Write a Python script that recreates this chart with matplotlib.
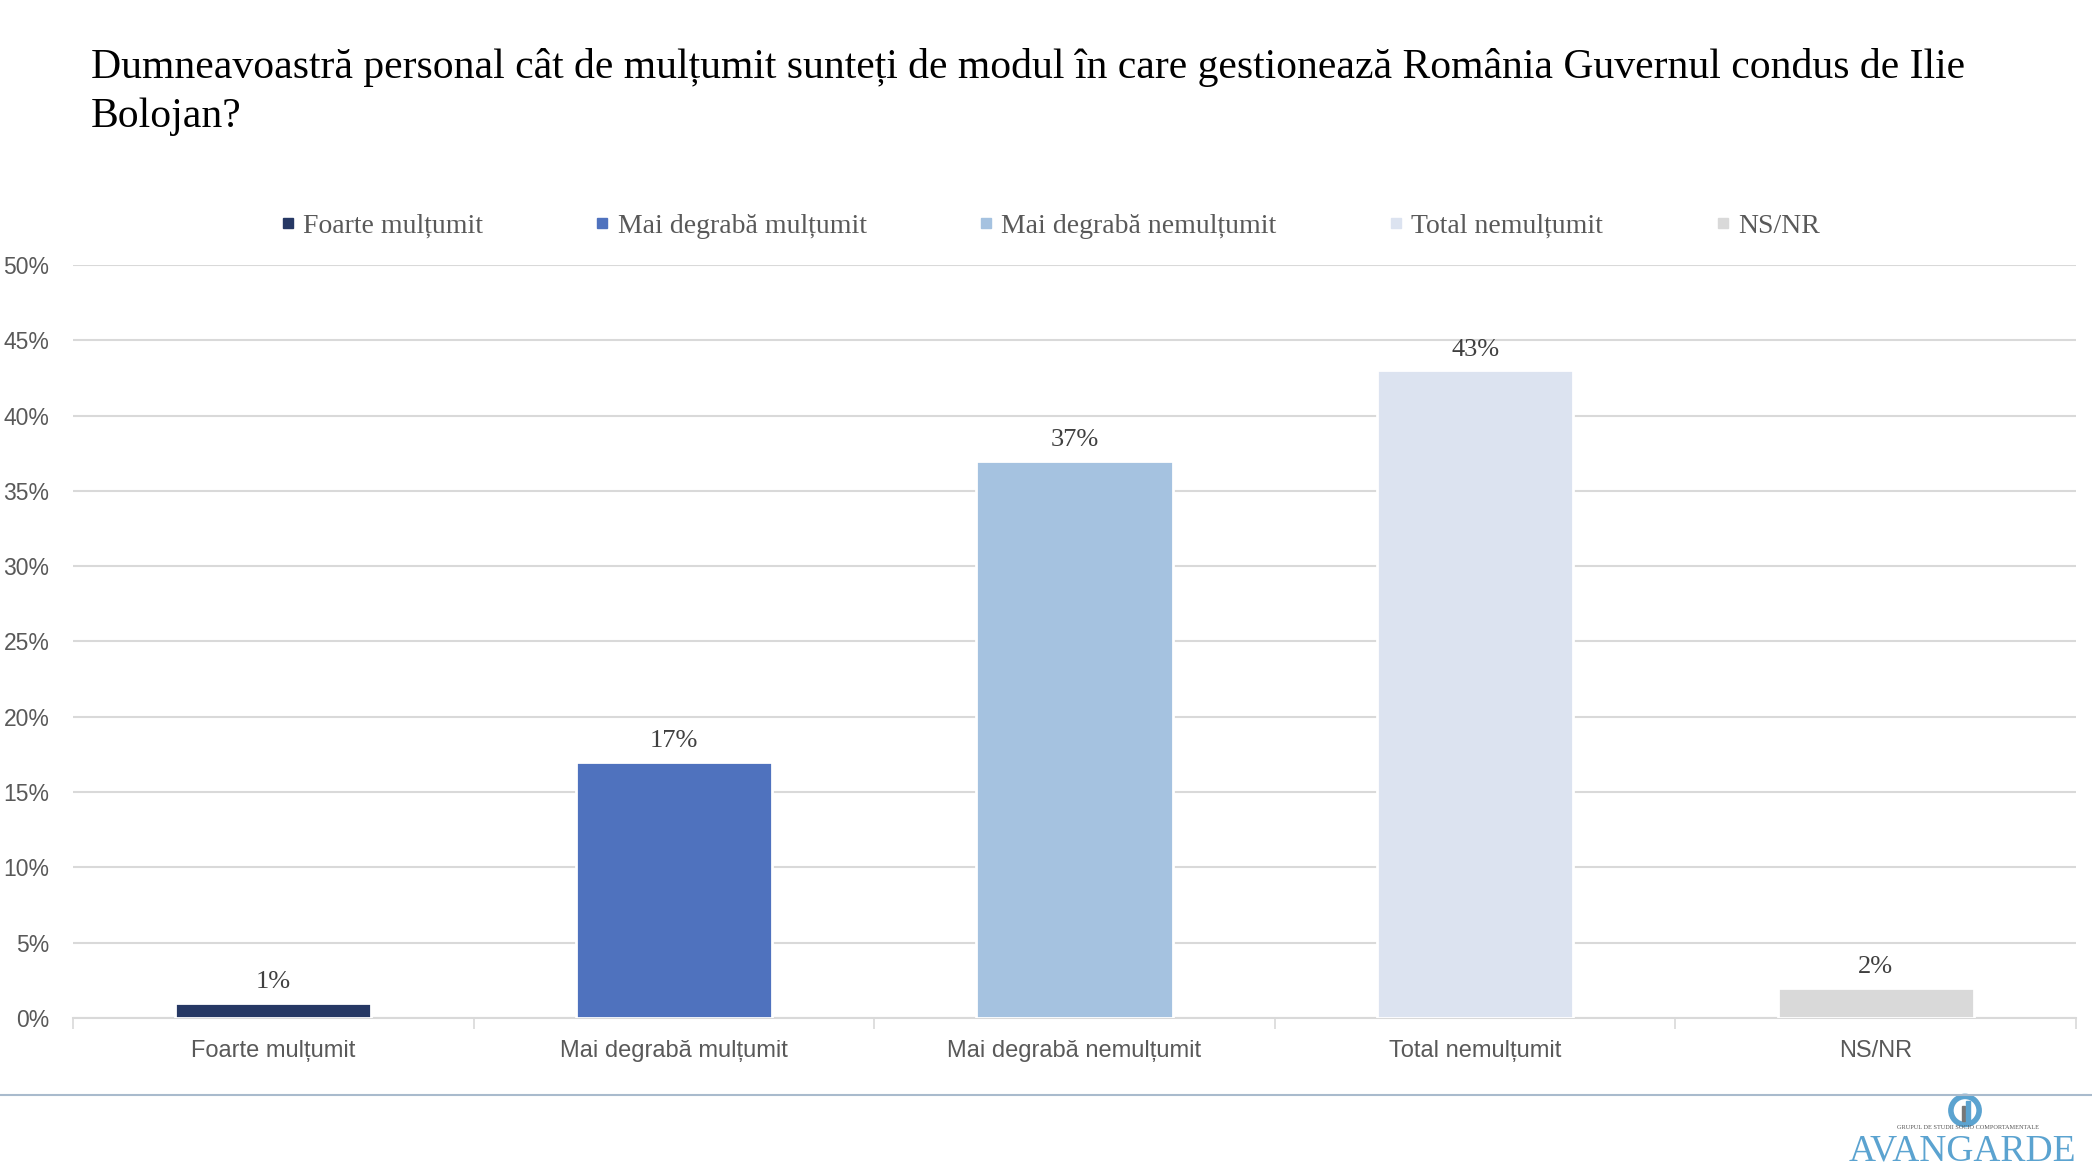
import matplotlib.pyplot as plt
from matplotlib.patches import Ellipse, Rectangle
from matplotlib.lines import Line2D

categories = ['Foarte mulțumit', 'Mai degrabă mulțumit', 'Mai degrabă nemulțumit',
              'Total nemulțumit', 'NS/NR']
values = [1, 17, 37, 43, 2]
colors = ['#263864', '#4F72BE', '#A5C2E0', '#DCE3F0', '#D9D9D9']
yticks = [0, 5, 10, 15, 20, 25, 30, 35, 40, 45, 50]

title = ('Dumneavoastră personal cât de mulțumit sunteți de modul în care gestionează '
         'România Guvernul condus de Ilie\nBolojan?')

serif = 'Liberation Serif'
sans = 'Liberation Sans'

fig = plt.figure(figsize=(20.92, 11.72), dpi=100)
ax = fig.add_axes([0.0349, 0.1314, 0.9575, 0.6425])

x = list(range(len(categories)))
bars = ax.bar(x, values, width=0.49, color=colors, edgecolor='white', linewidth=2, zorder=3)

for xi, v in zip(x, values):
    ax.annotate(f'{v}%', (xi, v), xytext=(0, 7), textcoords='offset points',
                ha='center', va='bottom', fontsize=19, family=serif, color='#404040')

ax.set_xlim(-0.5, len(categories) - 0.5)
ax.set_ylim(0, 50)
ax.set_yticks(yticks)
ax.set_yticklabels([f'{t}%' for t in yticks], family=sans, fontsize=16.5, color='#595959')
ax.yaxis.grid(True, color='#D9D9D9', linewidth=1.5, zorder=0)
ax.set_axisbelow(True)
ax.tick_params(axis='y', length=0, pad=17)

ax.set_xticks(x)
ax.set_xticklabels(categories, family=sans, fontsize=17, color='#595959')
ax.set_xticks([i + 0.5 for i in range(-1, len(categories))], minor=True)
ax.tick_params(axis='x', which='major', length=0, pad=16)
ax.tick_params(axis='x', which='minor', length=8, width=1.2, color='#D9D9D9')

for side in ['top', 'right', 'left']:
    ax.spines[side].set_visible(False)
ax.spines['bottom'].set_color('#D9D9D9')
ax.spines['bottom'].set_linewidth(1.5)

handles = [Line2D([], [], marker='s', linestyle='none', markersize=7,
                  markerfacecolor=c, markeredgecolor=c) for c in colors]
leg = ax.legend(handles, categories, loc='center', bbox_to_anchor=(0.4875, 1.052), ncol=5,
                frameon=False, handlelength=0.6, handletextpad=0.25, columnspacing=4.0,
                prop={'family': serif, 'size': 20})
for t in leg.get_texts():
    t.set_color('#595959')

fig.text(0.0435, 0.959, title, ha='left', va='top', fontsize=30, family=serif,
         color='black', linespacing=1.35)

# footer line and logo
fig.add_artist(Line2D([0, 1], [0.0657, 0.0657], transform=fig.transFigure,
                      color='#A9BBCD', linewidth=1.5))
fig.text(0.9924, 0.010, 'AVANGARDE', ha='right', va='baseline', fontsize=27,
         family=serif, color='#5BA3D0')
fig.text(0.9405, 0.036, 'GRUPUL DE STUDII SOCIO COMPORTAMENTALE', ha='center',
         va='bottom', fontsize=4.5, family=serif, color='#555555')
fig.add_artist(Ellipse((0.9393, 0.0525), 0.0135, 0.024, transform=fig.transFigure,
                       facecolor='none', edgecolor='#5BA3D0', linewidth=4))
fig.add_artist(Rectangle((0.9378, 0.0435), 0.0017, 0.013, transform=fig.transFigure,
                         color='#777777'))
fig.add_artist(Rectangle((0.9400, 0.0435), 0.0017, 0.017, transform=fig.transFigure,
                         color='#5BA3D0'))

fig.savefig('out.png', dpi=100, facecolor='white')
